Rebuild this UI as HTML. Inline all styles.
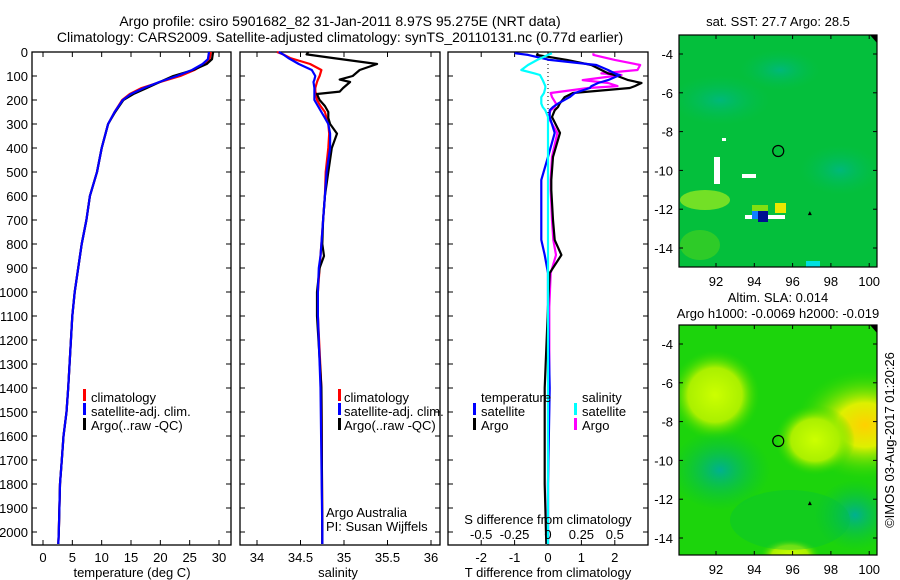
<!DOCTYPE html>
<html><head><meta charset="utf-8"><style>
body{margin:0;background:#fff}
svg{display:block;font-family:"Liberation Sans",sans-serif}
</style></head><body>
<svg id="s" width="900" height="580" viewBox="0 0 900 580">
<defs>
<radialGradient id="y1"><stop offset="0" stop-color="#ccff00"/><stop offset="0.6" stop-color="#aaf000"/><stop offset="1" stop-color="#30d800" stop-opacity="0"/></radialGradient>
<radialGradient id="y2"><stop offset="0" stop-color="#ffd000"/><stop offset="0.4" stop-color="#ddf000"/><stop offset="1" stop-color="#30d800" stop-opacity="0"/></radialGradient>
<radialGradient id="t1"><stop offset="0" stop-color="#00b87a"/><stop offset="1" stop-color="#00c050" stop-opacity="0"/></radialGradient>
<radialGradient id="t2"><stop offset="0" stop-color="#00b090"/><stop offset="1" stop-color="#00c040" stop-opacity="0"/></radialGradient>
<clipPath id="c1"><rect x="679" y="35" width="198" height="232"/></clipPath>
<clipPath id="c2"><rect x="679" y="325" width="198" height="230"/></clipPath>
</defs>
<text x="340" y="26" font-size="14" text-anchor="middle">Argo profile: csiro 5901682_82 31-Jan-2011 8.97S 95.275E (NRT data)</text>
<text x="340" y="42" font-size="14" text-anchor="middle">Climatology: CARS2009. Satellite-adjusted climatology: synTS_20110131.nc (0.77d earlier)</text>
<g id="g"></g>
</svg>
<script>
// depth levels (m)
const depthsT = [0,30,50,75,100,125,150,175,200,250,300,400,500,600,700,800,900,1000,1100,1400,1500,1600,1700,1800,1900,2000,2050];
const tempArgo = [29.0,28.8,27.9,25.6,22.2,19.9,17.7,15.4,13.7,12.3,11.1,10.0,9.2,8.0,7.4,6.6,6.0,5.4,5.0,4.3,4.0,3.5,3.2,2.9,2.8,2.7,2.6];
const tempClim = [28.6,28.4,27.5,25.8,23.4,20.0,16.8,14.8,13.5,12.2,11.1,10.0,9.2,8.0,7.4,6.6,6.0,5.4,5.0,4.3,4.0,3.5,3.2,2.9,2.8,2.7,2.6];
const tempSat  = [28.3,28.1,27.2,25.4,22.8,19.8,17.2,15.0,13.6,12.2,11.1,10.0,9.2,8.0,7.4,6.6,6.0,5.4,5.0,4.3,4.0,3.5,3.2,2.9,2.8,2.7,2.6];
const depthsS = [0,10,25,50,75,100,115,125,150,165,175,200,225,250,275,300,340,400,500,600,700,800,850,900,1000,1100,1400,2000,2050];
const salArgo = [34.59,34.57,34.87,35.38,35.18,35.10,34.95,35.07,34.99,34.95,34.69,34.72,34.78,34.82,34.82,34.84,34.92,34.86,34.82,34.78,34.76,34.75,34.77,34.72,34.69,34.69,34.74,34.75,34.75];
const salClim = [34.23,34.30,34.38,34.61,34.74,34.72,34.70,34.69,34.67,34.67,34.68,34.69,34.73,34.78,34.80,34.82,34.83,34.82,34.79,34.78,34.76,34.74,34.73,34.72,34.70,34.70,34.74,34.75,34.75];
const salSat  = [34.25,34.30,34.36,34.48,34.63,34.67,34.66,34.65,34.66,34.66,34.66,34.66,34.70,34.74,34.78,34.82,34.84,34.84,34.80,34.78,34.76,34.74,34.73,34.71,34.70,34.70,34.73,34.75,34.75];
const depthsD = [5,12,33,54,75,89,96,117,129,142,150,171,188,215,229,243,271,337,437,533,575,700,783,846,921,1062,1400,1800,2050];
const dTArgo = [-0.3,-0.33,0.57,1.3,1.6,1.8,2.0,2.4,2.8,2.6,2.45,0.75,0.5,0.35,0.3,0.2,0.12,0.36,0.15,0.1,0.1,0.15,0.2,0.4,0.05,0,-0.1,-0.1,-0.05];
const dTSat  = [-1.0,-0.6,0.05,1.45,1.8,2.0,2.15,1.8,1.5,1.3,1.25,0.8,0.65,0.3,0.15,0.05,0.05,0.2,0.0,-0.2,-0.2,-0.2,-0.2,-0.1,0,0,0.05,0,0];
const dSArgo = [0.34,0.34,0.5,0.69,0.67,0.4,0.55,0.26,0.45,0.52,0.3,0.02,0.03,0.06,0.05,0.02,0,0.07,0.03,0.02,0.02,0.03,0.04,0.06,0.02,0.01,0.01,0,0];
const dSSat  = [0.03,0.0,-0.08,-0.15,-0.2,-0.1,-0.06,-0.04,-0.03,-0.02,-0.02,-0.03,-0.05,-0.05,-0.04,-0.02,0,0,0,0,0,0,0,0,0,0,0,0,0];
const depthTicks = [0,100,200,300,400,500,600,700,800,900,1000,1100,1200,1300,1400,1500,1600,1700,1800,1900,2000];
const tempTicks = [0,5,10,15,20,25,30];
const salTicks = [34,34.5,35,35.5,36];
const dTTicks = [-2,-1,0,1,2];
const dSTicks = [-0.5,-0.25,0,0.25,0.5];
const dSTickLabels = ["-0.5","-0.25","0","0.25","0.5"];
const lonTicks = [92,94,96,98,100];
const latTicks = [-4,-6,-8,-10,-12,-14];

const NS='http://www.w3.org/2000/svg', G=document.getElementById('g');
function mk(t,a,p){const e=document.createElementNS(NS,t);for(const k in a)e.setAttribute(k,a[k]);(p||G).appendChild(e);return e;}
const yD=d=>52+d*0.24, TOP=52, BOT=545;
const xT=v=>43+v*5.867, xS=v=>257+(v-34)*87, xDT=v=>548+v*33.4, xDS=v=>548+v*133.6;

function panel(x0,x1,name){
  const r=mk('rect',{x:x0,y:TOP,width:x1-x0,height:BOT-TOP,fill:'none',stroke:'#000','stroke-width':1.3});
  
  depthTicks.forEach(d=>{const l=mk('line',{x1:x0,x2:x0+5,y1:yD(d),y2:yD(d),stroke:'#000'});
    
    const l2=mk('line',{x1:x1,x2:x1-5,y1:yD(d),y2:yD(d),stroke:'#000'});
    });
}
function xticks(vals,fx,labels,y){vals.forEach((v,i)=>{
  const a=mk('line',{x1:fx(v),x2:fx(v),y1:TOP,y2:TOP+5,stroke:'#000'});
  const b=mk('line',{x1:fx(v),x2:fx(v),y1:BOT,y2:BOT-5,stroke:'#000'});
  const t=mk('text',{x:fx(v),y:y,'font-size':13,'text-anchor':'middle'});t.textContent=labels?labels[i]:String(v);
  });}
function line(xs,ds,fx,col,name){
  const pts=xs.map((v,i)=>fx(v).toFixed(1)+','+yD(ds[i]).toFixed(1)).join(' ');
  const p=mk('polyline',{points:pts,fill:'none',stroke:col,'stroke-width':2.2,'stroke-linejoin':'round'});
  
  p.setAttribute('clip-path','none');return p;}
function txt(x,y,s,name,anchor,size){const t=mk('text',{x:x,y:y,'font-size':size||13,'text-anchor':anchor||'start'});t.textContent=s;
  return t;}
function mark(x,y,col,name){const r=mk('rect',{x:x,y:y-11,width:3,height:12,fill:col});}

// Panel 1 temperature
panel(32,231,'temperature-panel');
depthTicks.forEach(d=>{txt(28,yD(d)+5,String(d),'depth-tick-label','end');});
xticks(tempTicks,xT,null,562);
txt(132,577,'temperature (deg C)','temperature-axis-title','middle');
line(tempClim,depthsT,xT,'#f00','temp-climatology-line');
line(tempArgo,depthsT,xT,'#000','temp-argo-line');
line(tempSat,depthsT,xT,'#00f','temp-satellite-line');
mark(83,400,'#f00','legend-climatology-mark');txt(91,402,'climatology','legend-climatology');
mark(83,414,'#00f','legend-satellite-mark');txt(91,416,'satellite-adj. clim.','legend-satellite');
mark(83,429,'#000','legend-argo-mark');txt(91,430,'Argo(..raw -QC)','legend-argo');

// Panel 2 salinity
panel(240,440,'salinity-panel');
xticks(salTicks,xS,null,562);
txt(338,577,'salinity','salinity-axis-title','middle');
line(salClim,depthsS,xS,'#f00','sal-climatology-line');
line(salArgo,depthsS,xS,'#000','sal-argo-line');
line(salSat,depthsS,xS,'#00f','sal-satellite-line');
mark(338,400,'#f00','legend-climatology-mark');txt(344,402,'climatology','legend-climatology');
mark(338,414,'#00f','legend-satellite-mark');txt(344,416,'satellite-adj. clim.','legend-satellite');
mark(338,429,'#000','legend-argo-mark');txt(344,430,'Argo(..raw -QC)','legend-argo');
txt(326,517,'Argo Australia','credit-argo-australia');
txt(326,531,'PI: Susan Wijffels','credit-pi');

// Panel 3 differences
panel(448,648,'difference-panel');
xticks(dTTicks,xDT,null,562);
txt(548,577,'T difference from climatology','t-difference-axis-title','middle');
const z=mk('line',{x1:548,x2:548,y1:TOP,y2:yD(320),stroke:'#000','stroke-dasharray':'1,3'});

line(dSArgo,depthsD,xDS,'#f0f','s-diff-argo-line');
line(dTArgo,depthsD,xDT,'#000','t-diff-argo-line');
line(dTSat,depthsD,xDT,'#00f','t-diff-satellite-line');
line(dSSat,depthsD,xDS,'#0ff','s-diff-satellite-line');
txt(481,402,'temperature','legend-temperature-header');
mark(473,414,'#00f','legend-t-satellite-mark');txt(481,416,'satellite','legend-t-satellite');
mark(473,429,'#000','legend-t-argo-mark');txt(481,430,'Argo','legend-t-argo');
txt(582,402,'salinity','legend-salinity-header');
mark(574,414,'#0ff','legend-s-satellite-mark');txt(582,416,'satellite','legend-s-satellite');
mark(574,429,'#f0f','legend-s-argo-mark');txt(582,430,'Argo','legend-s-argo');
txt(548,524,'S difference from climatology','s-difference-axis-title','middle');
dSTicks.forEach((v,i)=>txt(xDS(v),539,dSTickLabels[i],'s-diff-tick-label','middle'));

// Maps
const xL=v=>716+(v-92)*19.15;
function map(y0,y1,lat0,name,clip,blobs,base){
  const g=mk('g',{'clip-path':'url(#'+clip+')'});
  const b=mk('rect',{x:679,y:y0,width:198,height:y1-y0,fill:base},g);
  blobs.forEach(bl=>{const e=mk(bl[0],bl[1],g);});
  const yL=v=>lat0+(-4-v)*19.4;
  const c=mk('circle',{cx:xL(95.25),cy:yL(-9),r:5.5,fill:'none',stroke:'#000','stroke-width':1.2});
  const tr=mk('polygon',{points:`${xL(96.9)-2},${yL(-12.2)+2} ${xL(96.9)+2},${yL(-12.2)+2} ${xL(96.9)},${yL(-12.2)-2}`,fill:'#000'});
  const cn=mk('polygon',{points:`870,${y0} 877,${y0} 877,${y0+8}`,fill:'#000'});
  const r=mk('rect',{x:679,y:y0,width:198,height:y1-y0,fill:'none',stroke:'#000','stroke-width':1.2});
  lonTicks.forEach(v=>{const a=mk('line',{x1:xL(v),x2:xL(v),y1:y0,y2:y0+4,stroke:'#000'});
    const b2=mk('line',{x1:xL(v),x2:xL(v),y1:y1,y2:y1-4,stroke:'#000'});
    txt(xL(v),y1+19,String(v),'lon-tick-label','middle');});
  latTicks.forEach(v=>{const a=mk('line',{x1:679,x2:683,y1:yL(v),y2:yL(v),stroke:'#000'});
    const b2=mk('line',{x1:877,x2:873,y1:yL(v),y2:yL(v),stroke:'#000'});
    txt(673,yL(v)+5,String(v),'lat-tick-label','end');});
}
map(35,267,54,'sst-map','c1',[
 ['ellipse',{cx:720,cy:100,rx:50,ry:25,fill:'url(#t1)'}],
 ['ellipse',{cx:840,cy:170,rx:40,ry:25,fill:'url(#t1)'}],
 ['ellipse',{cx:780,cy:70,rx:40,ry:20,fill:'url(#t1)'}],
 ['ellipse',{cx:705,cy:200,rx:25,ry:10,fill:'#90e820',opacity:0.8}],
 ['ellipse',{cx:700,cy:245,rx:20,ry:15,fill:'#40d020',opacity:0.7}],
 ['rect',{x:742,y:174,width:14,height:4,fill:'#fff'}],
 ['rect',{x:714,y:157,width:6,height:27,fill:'#fff'}],
 ['rect',{x:722,y:138,width:4,height:3,fill:'#fff'}],
 ['rect',{x:752,y:205,width:16,height:10,fill:'#80e010'}],
 ['rect',{x:775,y:203,width:11,height:10,fill:'#e8e800'}],
 ['rect',{x:745,y:215,width:40,height:4,fill:'#fff'}],
 ['rect',{x:752,y:211,width:7,height:8,fill:'#1080ff'}],
 ['rect',{x:758,y:211,width:10,height:11,fill:'#001090'}],
 ['rect',{x:806,y:261,width:14,height:6,fill:'#00e0e0'}]
],'#04bf3c');
map(325,555,344,'sla-map','c2',[
 ['ellipse',{cx:715,cy:395,rx:45,ry:45,fill:'url(#y1)'}],
 ['ellipse',{cx:865,cy:425,rx:70,ry:55,fill:'url(#y2)'}],
 ['ellipse',{cx:815,cy:440,rx:40,ry:35,fill:'url(#y1)'}],
 ['ellipse',{cx:720,cy:470,rx:50,ry:40,fill:'url(#t2)'}],
 ['ellipse',{cx:855,cy:515,rx:40,ry:35,fill:'url(#t2)'}],
 ['ellipse',{cx:790,cy:555,rx:30,ry:16,fill:'url(#y1)'}],
 ['ellipse',{cx:790,cy:520,rx:60,ry:30,fill:'#00c040',opacity:0.35}]
],'#1cd40c');
txt(778,26,'sat. SST: 27.7 Argo: 28.5','sst-map-title','middle');
txt(778,302,'Altim. SLA: 0.014','sla-map-title','middle');
txt(778,318,'Argo h1000: -0.0069 h2000: -0.019','sla-map-subtitle','middle');
const cr=txt(0,0,'©IMOS 03-Aug-2017 01:20:26','timestamp-credit','middle');
cr.setAttribute('transform','translate(894,440) rotate(-90)');
</script>
</body></html>
